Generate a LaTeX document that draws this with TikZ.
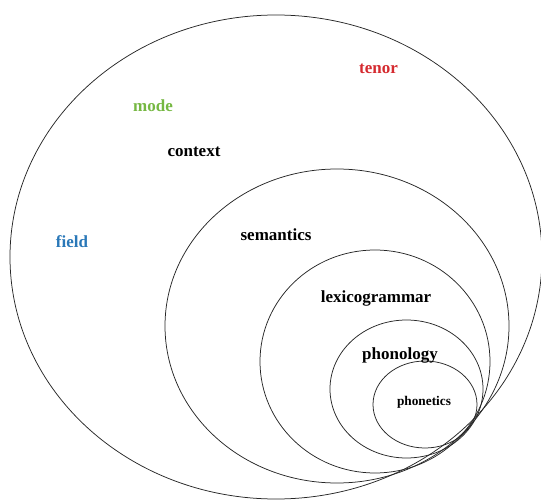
\documentclass[tikz,border=0pt]{standalone}
\usepackage{fontspec}
\setmainfont{Liberation Serif}
\begin{document}
\begin{tikzpicture}[x=1pt,y=-1pt,
  ring/.style={draw=black!85,line width=0.75pt},
  lbl/.style={font=\bfseries\fontsize{17}{19}\selectfont,inner sep=0pt},
  small/.style={font=\bfseries\fontsize{13.3}{15}\selectfont,inner sep=0pt}]
\definecolor{tenorred}{HTML}{D52B30}
\definecolor{modegreen}{HTML}{76B843}
\definecolor{fieldblue}{HTML}{2A78B8}
\useasboundingbox (0,0) rectangle (541,500);
% nested levels, all meeting near the lower right
\draw[ring] (276,257) ellipse [x radius=266pt, y radius=242pt];
\draw[ring] (337,326) ellipse [x radius=172pt, y radius=157pt];
\draw[ring] (375,361.5) ellipse [x radius=115pt, y radius=111.5pt];
\draw[ring] (406.5,389) ellipse [x radius=76.5pt, y radius=69pt];
\draw[ring] (425,404.5) ellipse [x radius=52pt, y radius=43.5pt];
% labels
\node[lbl,text=tenorred] (tenor) at (378.5,69) {tenor};
\node[lbl,text=modegreen] (mode) at (153,106) {mode};
\node[lbl] (context) at (194,152) {context};
\node[lbl,text=fieldblue] (field) at (72,242) {field};
\node[lbl] (semantics) at (276,235) {semantics};
\node[lbl] (lexicogrammar) at (376,298) {lexicogrammar};
\node[lbl] (phonology) at (400,355) {phonology};
\node[small] (phonetics) at (424,402) {phonetics};
\end{tikzpicture}
\end{document}
